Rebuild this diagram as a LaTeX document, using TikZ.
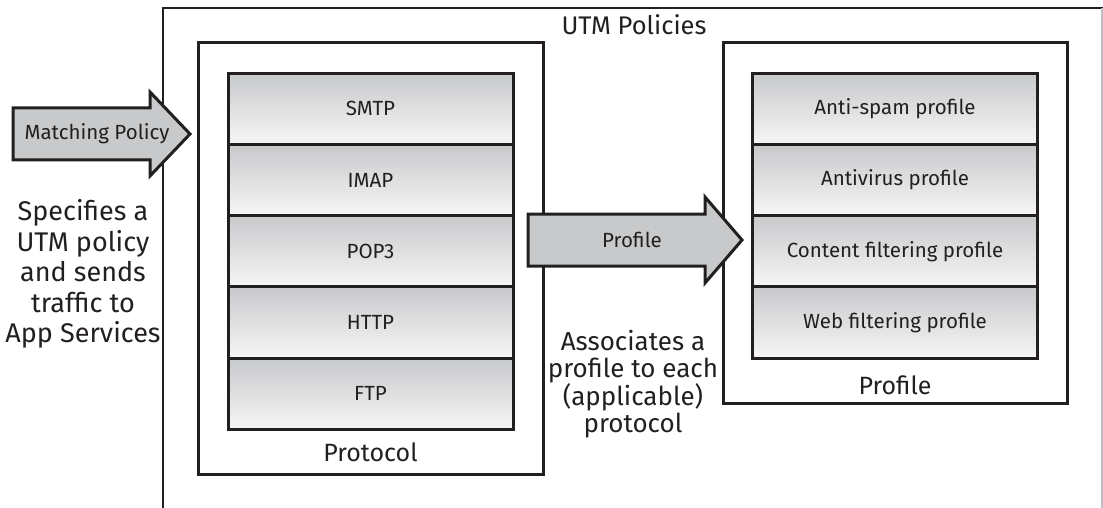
\documentclass[tikz,border=0pt]{standalone}
\usepackage{fontspec}
\setmainfont{Fira Sans}
\usetikzlibrary{calc}
\definecolor{ink}{HTML}{231F20}
\definecolor{rowtop}{HTML}{C8C9CB}
\definecolor{rowbot}{HTML}{F6F6F6}
\definecolor{arrowfill}{HTML}{C8C9CB}
\tikzset{
  rowbox/.style={draw=ink, line width=3pt, top color=rowtop, bottom color=rowbot, minimum width=285pt, minimum height=71.3pt, inner sep=0pt, font=\fontsize{20.5}{24}\selectfont, text=ink},
  groupbox/.style={draw=ink, line width=3pt},
  biglabel/.style={font=\fontsize{26}{30}\selectfont, text=ink, align=center, inner sep=0pt},
  arrowshape/.style={draw=ink, line width=3pt, fill=arrowfill, line join=miter},
  arrowlabel/.style={font=\fontsize{20.5}{24}\selectfont, text=ink, inner sep=0pt},
}
\begin{document}
\begin{tikzpicture}[x=1pt,y=-1pt]
\useasboundingbox (0,0) rectangle (1103,508);
% outer UTM box (cropped)
\draw[ink, line width=2.5pt] (163,520) -- (163,8) -- (1103,8);
\draw[gray!50, line width=1.5pt] (1102,8) -- (1102,508);
\node[biglabel, font=\fontsize{25.5}{30}\selectfont] (utm) at (634,25) {UTM Policies};
% protocol group box
\draw[groupbox] (198,43) rectangle (543,474);
\node[biglabel, font=\fontsize{25}{30}\selectfont] (protocol) at (370.5,452) {Protocol};
% protocol stack
\node[rowbox] (smtp) at (370.5,108.7) {SMTP};
\node[rowbox] (imap) at (370.5,180) {IMAP};
\node[rowbox] (pop3) at (370.5,251.3) {POP3};
\node[rowbox] (http) at (370.5,322.6) {HTTP};
\node[rowbox] (ftp)  at (370.5,393.9) {FTP};
% profile group box
\draw[groupbox] (723,43) rectangle (1067,403);
\node[biglabel, font=\fontsize{25}{30}\selectfont] (profile) at (895,385) {Profile};
% profile stack
\node[rowbox] (anti) at (895,108.7) {Anti-spam profile};
\node[rowbox] (avir) at (895,180) {Antivirus profile};
\node[rowbox] (cont) at (895,251.3) {Content filtering profile};
\node[rowbox] (webf) at (895,322.6) {Web filtering profile};
% Matching Policy arrow
\draw[arrowshape] (13,108) -- (150,108) -- (150,92) -- (190,134) -- (150,176) -- (150,160) -- (13,160) -- cycle;
\node[arrowlabel] (match) at (97,134) {Matching Policy};
% Profile arrow
\draw[arrowshape] (528,214) -- (705,214) -- (705,197) -- (742,240) -- (705,283) -- (705,266) -- (528,266) -- cycle;
\node[arrowlabel] (parrow) at (632,240) {Profile};
% descriptive texts
\node[biglabel, font=\fontsize{27}{30.5}\selectfont] (spec) at (83,274) {Specifies a\\UTM policy\\and sends\\traffic to\\App Services};
\node[biglabel, font=\fontsize{26}{26.5}\selectfont] (assoc) at (633,384) {Associates a\\profile to each\\(applicable)\\protocol};
\end{tikzpicture}
\end{document}
